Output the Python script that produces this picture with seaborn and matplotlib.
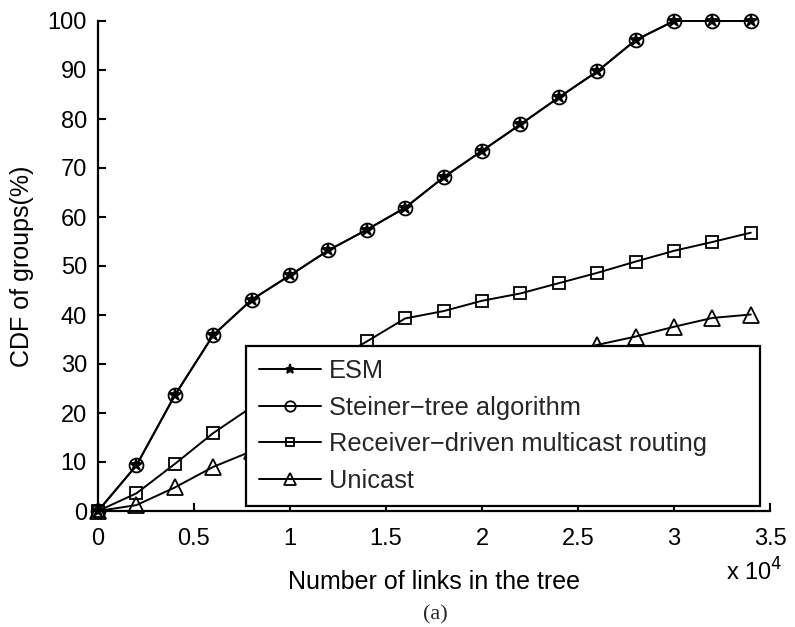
import numpy as np
import pandas as pd
import matplotlib
matplotlib.use("Agg")
import matplotlib.pyplot as plt
import seaborn as sns

# Number of links in the tree (units of 10^4)
links = [0, 0.2, 0.4, 0.6, 0.8, 1.0, 1.2, 1.4, 1.6, 1.8, 2.0, 2.2, 2.4, 2.6, 2.8, 3.0, 3.2, 3.4]

# CDF of groups (%)
esm = [0, 9.3, 23.6, 35.9, 43.1, 48.1, 53.2, 57.4, 61.9, 68.1, 73.5, 78.9, 84.4, 89.7, 96.1, 100, 100, 100]
steiner = [0, 9.3, 23.6, 35.9, 43.1, 48.1, 53.2, 57.4, 61.9, 68.1, 73.5, 78.9, 84.4, 89.7, 96.1, 100, 100, 100]
receiver = [0, 3.6, 9.6, 15.9, 21.2, 25.6, 30.1, 34.6, 39.3, 40.8, 42.9, 44.4, 46.5, 48.6, 50.9, 53.1, 54.9, 56.8]
unicast = [0, 1.2, 4.8, 9.0, 12.2, 15.6, 19.0, 22.0, 24.6, 26.7, 28.6, 30.4, 32.1, 33.9, 35.6, 37.6, 39.4, 40.1]

series_names = ["ESM", "Steiner\u2212tree algorithm",
                "Receiver\u2212driven multicast routing", "Unicast"]
series_values = [esm, steiner, receiver, unicast]
series_markers = ["*", "o", "s", "^"]
series_sizes = [9, 10, 8, 11]

xticks = [0, 0.5, 1, 1.5, 2, 2.5, 3, 3.5]
xtick_labels = ["0", "0.5", "1", "1.5", "2", "2.5", "3", "3.5"]
yticks = list(range(0, 101, 10))

sns.set_theme(style="white")
plt.rcParams["font.family"] = ["Liberation Sans", "DejaVu Sans"]
plt.rcParams["axes.linewidth"] = 1.6

fig = plt.figure(figsize=(7.95, 6.27), dpi=100)
ax = fig.add_axes([98 / 795, 1 - 511 / 627, (770 - 98) / 795, (511 - 21) / 627])

frames = []
for name, vals in zip(series_names, series_values):
    frames.append(pd.DataFrame({"links": links, "cdf": vals, "method": name}))
df = pd.concat(frames, ignore_index=True)

for name, mk, ms in zip(series_names, series_markers, series_sizes):
    sub = df[df["method"] == name]
    sns.lineplot(data=sub, x="links", y="cdf", ax=ax, color="black",
                 linewidth=1.4, marker=mk, markersize=ms,
                 markerfacecolor="none" if mk != "*" else "black",
                 markeredgecolor="black", markeredgewidth=1.3,
                 clip_on=False, label=name, legend=False, zorder=3)

ax.set_xlim(0, 3.5)
ax.set_ylim(0, 100)
ax.set_xticks(xticks)
ax.set_xticklabels(xtick_labels)
ax.set_yticks(yticks)

for side in ["top", "right"]:
    ax.spines[side].set_visible(False)
for side in ["left", "bottom"]:
    ax.spines[side].set_color("black")
    ax.spines[side].set_linewidth(1.6)

ax.tick_params(axis="both", direction="in", length=6, width=1.5,
               colors="black", labelsize=17, pad=8,
               bottom=True, left=True)
ax.tick_params(axis="x", pad=12)

ax.set_xlabel("Number of links in the tree", fontsize=18, color="black")
ax.set_ylabel("CDF of groups(%)", fontsize=18, color="black")
ax.xaxis.set_label_coords(0.5, -0.12)
ax.yaxis.set_label_coords(-0.095, 0.5)

ax.text(1.018, -0.125, r"x 10$^{4}$", transform=ax.transAxes,
        fontsize=17, ha="right", va="center", color="black")

fig.text(435 / 795, 1 - 615 / 627, "(a)", fontsize=16,
         family=["Liberation Serif", "DejaVu Serif"], ha="center", va="center")

leg_handles, leg_labels = ax.get_legend_handles_labels()
leg = ax.legend(leg_handles, leg_labels, loc="lower left",
                bbox_to_anchor=((246 - 98) / 672, (511 - 505.7) / 490,
                                (760 - 246) / 672, 0.3),
                mode="expand", fontsize=18.3, frameon=True, fancybox=False,
                handlelength=2.45, handletextpad=0.3, labelspacing=0.5,
                borderpad=0.5, borderaxespad=0, markerscale=0.75)
frame = leg.get_frame()
frame.set_edgecolor("black")
frame.set_linewidth(1.6)
frame.set_facecolor("white")
frame.set_alpha(1)
leg.set_zorder(5)

ax.grid(False)
fig.savefig("out.png", dpi=100, facecolor="white")
